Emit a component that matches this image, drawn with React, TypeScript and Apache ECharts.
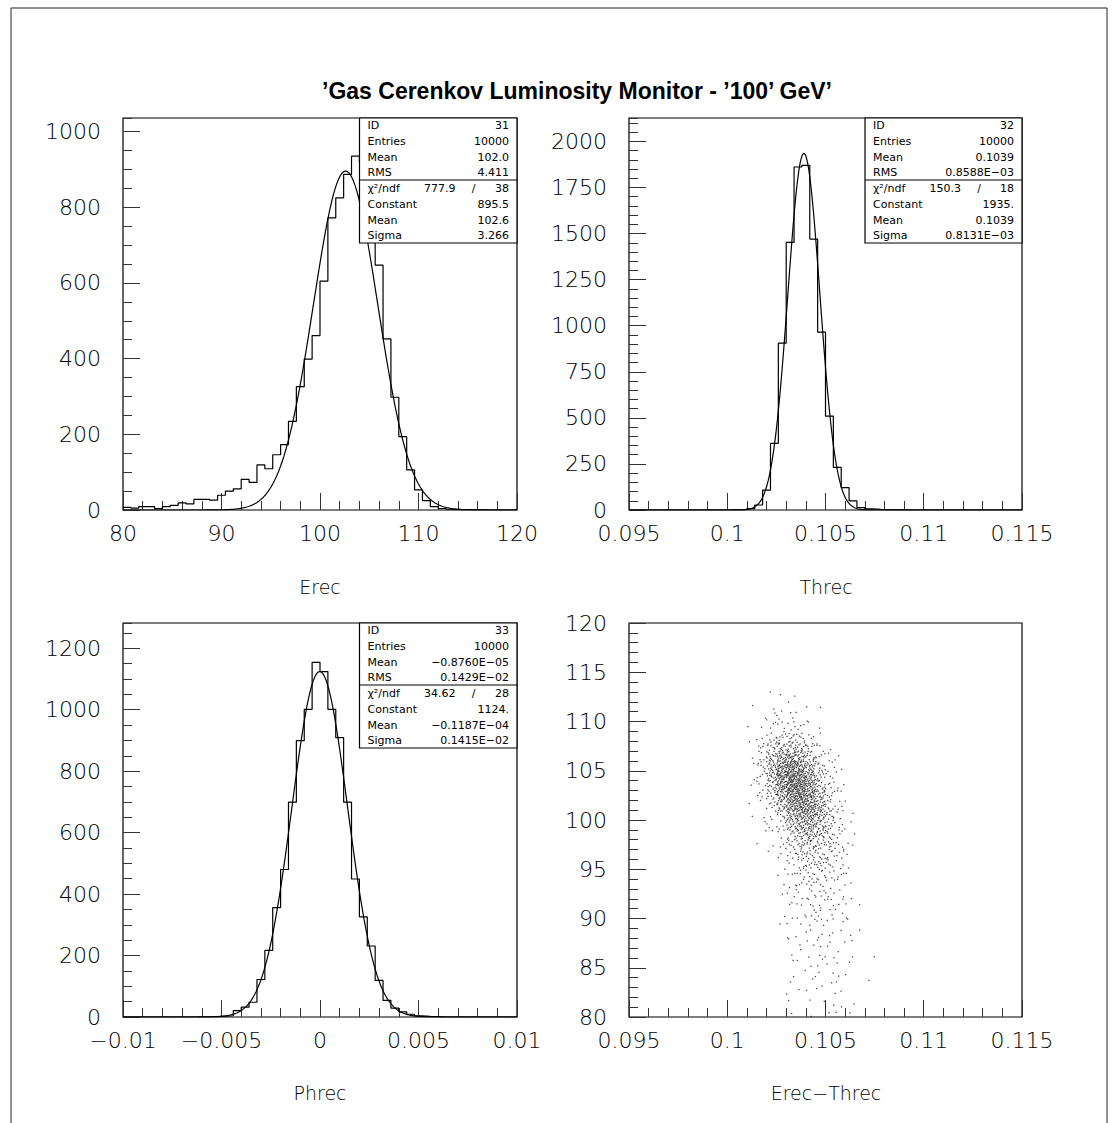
import React, { useEffect, useRef } from "react";
import * as echarts from "echarts";

const TITLE = "\u2019Gas Cerenkov Luminosity Monitor - \u2019100\u2019 GeV\u2019";
const axisTitles = ["Erec", "Threc", "Phrec", "Erec\u2212Threc"];

// ---- histogram ranges ----
const erecRange = [80, 120];
const threcRange = [0.095, 0.115];
const phrecRange = [-0.01, 0.01];

// ---- histogram contents (50 bins each) ----
const erecCounts = [
  7, 5, 9, 9, 4, 9, 12, 19, 16, 28, 28, 26, 39, 50, 56, 81, 73, 119, 109, 146,
  173, 234, 326, 399, 461, 605, 772, 825, 887, 935, 920, 810, 647, 452, 298, 194, 106, 53, 25, 9,
  4, 2, 1, 1, 0, 0, 0, 0, 0, 0,
];
const threcCounts = [
  0, 0, 0, 0, 0, 0, 0, 0, 0, 0, 0, 0, 0, 1, 2, 8, 27, 108, 361, 905,
  1452, 1861, 1870, 1470, 965, 509, 231, 121, 50, 13, 6, 3, 2, 1, 1, 0, 0, 0, 0, 0,
  0, 0, 0, 0, 0, 0, 0, 0, 0, 0,
];
const phrecCounts = [
  0, 0, 0, 0, 0, 0, 0, 0, 0, 0, 0, 1, 3, 4, 21, 32, 48, 122, 217, 356,
  480, 699, 899, 1001, 1154, 1124, 1001, 909, 699, 449, 326, 231, 119, 54, 29, 17, 9, 4, 2, 1,
  0, 0, 0, 0, 0, 0, 0, 0, 0, 0,
];

// ---- gaussian fit parameters: constant, mean, sigma ----
const erecFit = [895.5, 102.6, 3.266];
const threcFit = [1935, 0.1039, 0.8131e-3];
const phrecFit = [1124, -0.1187e-4, 0.1415e-2];

// ---- statistics boxes ----
const erecStats = [["ID", "31"], ["Entries", "10000"], ["Mean", "102.0"], ["RMS", "4.411"]];
const erecChi = ["777.9", "38"];
const erecFitRows = [["Constant", "895.5"], ["Mean", "102.6"], ["Sigma", "3.266"]];
const threcStats = [["ID", "32"], ["Entries", "10000"], ["Mean", "0.1039"], ["RMS", "0.8588E\u221203"]];
const threcChi = ["150.3", "18"];
const threcFitRows = [["Constant", "1935."], ["Mean", "0.1039"], ["Sigma", "0.8131E\u221203"]];
const phrecStats = [["ID", "33"], ["Entries", "10000"], ["Mean", "\u22120.8760E\u221205"], ["RMS", "0.1429E\u221202"]];
const phrecChi = ["34.62", "28"];
const phrecFitRows = [["Constant", "1124."], ["Mean", "\u22120.1187E\u221204"], ["Sigma", "0.1415E\u221202"]];

// ---- 2D scatter (Erec vs Threc): dot counts per cell ----
const scatterXEdges = [0.101, 0.1015, 0.102, 0.1025, 0.103, 0.1035, 0.104, 0.1045, 0.105, 0.1055, 0.106, 0.1065, 0.107];
const scatterYEdges = [112, 111, 110, 109, 108, 107, 106, 105, 104, 103, 102, 101, 100, 99, 98, 97, 96, 95, 94, 93, 92, 91, 90, 89, 88, 87, 86, 85, 84, 83, 82, 81, 80];
const scatterCounts = [
  [0, 0, 1, 1, 1, 0, 0, 0, 0, 0, 0, 0, 0],
  [1, 0, 1, 1, 1, 0, 1, 1, 0, 0, 0, 0, 0],
  [0, 1, 2, 2, 2, 1, 1, 0, 0, 0, 0, 0, 0],
  [1, 1, 3, 3, 4, 3, 1, 1, 0, 0, 0, 0, 0],
  [0, 2, 5, 7, 7, 6, 3, 1, 0, 0, 0, 0, 0],
  [1, 4, 9, 13, 14, 11, 6, 3, 1, 0, 0, 0, 0],
  [1, 5, 14, 22, 25, 19, 11, 5, 2, 1, 0, 0, 0],
  [1, 6, 17, 30, 37, 30, 19, 8, 3, 1, 0, 0, 0],
  [1, 5, 17, 34, 43, 39, 25, 10, 4, 1, 0, 0, 0],
  [1, 4, 14, 30, 43, 42, 28, 13, 5, 2, 0, 0, 0],
  [0, 3, 10, 23, 37, 42, 32, 17, 6, 2, 0, 0, 0],
  [1, 1, 6, 16, 30, 36, 33, 20, 7, 3, 1, 0, 0],
  [1, 1, 3, 9, 21, 29, 29, 20, 9, 3, 1, 0, 0],
  [0, 1, 2, 5, 14, 22, 23, 17, 9, 3, 1, 0, 0],
  [0, 1, 1, 3, 9, 15, 17, 14, 8, 4, 1, 0, 0],
  [0, 1, 1, 3, 7, 11, 12, 10, 7, 4, 2, 0, 0],
  [0, 0, 1, 2, 4, 8, 9, 8, 6, 4, 1, 0, 0],
  [0, 0, 0, 1, 3, 6, 8, 7, 5, 3, 1, 0, 0],
  [0, 0, 0, 1, 3, 4, 6, 5, 4, 3, 1, 0, 0],
  [0, 0, 0, 1, 2, 4, 4, 4, 3, 2, 1, 0, 0],
  [0, 0, 0, 1, 2, 3, 4, 4, 3, 2, 1, 0, 0],
  [0, 0, 0, 0, 2, 2, 3, 3, 3, 2, 1, 1, 0],
  [0, 0, 0, 1, 1, 2, 3, 3, 2, 2, 1, 0, 0],
  [0, 0, 0, 1, 1, 1, 2, 3, 2, 1, 1, 0, 0],
  [0, 0, 0, 0, 1, 1, 2, 2, 2, 1, 1, 1, 0],
  [0, 0, 0, 0, 1, 1, 2, 2, 2, 1, 1, 0, 0],
  [0, 0, 0, 0, 1, 1, 1, 2, 1, 1, 1, 0, 1],
  [0, 0, 0, 0, 1, 1, 1, 2, 1, 1, 1, 0, 0],
  [0, 0, 0, 0, 1, 1, 1, 1, 1, 1, 1, 0, 0],
  [0, 0, 0, 0, 1, 0, 1, 1, 1, 1, 0, 0, 1],
  [0, 0, 0, 0, 1, 1, 1, 1, 1, 1, 0, 0, 0],
  [0, 0, 0, 0, 1, 0, 1, 1, 1, 1, 1, 0, 0],
  [0, 0, 0, 0, 1, 0, 1, 0, 1, 1, 1, 0, 0],
];
// fixed placement pattern of dots inside a cell (fractions of cell width/height)
const dotPattern = [
  [0.12, 0.57], [0.83, 0.21], [0.45, 0.9], [0.67, 0.38], [0.29, 0.08], [0.94, 0.73], [0.05, 0.31], [0.58, 0.62],
  [0.36, 0.44], [0.77, 0.96], [0.18, 0.82], [0.51, 0.15], [0.89, 0.49], [0.24, 0.67], [0.63, 0.03], [0.02, 0.92],
  [0.72, 0.54], [0.41, 0.26], [0.97, 0.11], [0.31, 0.78], [0.55, 0.36], [0.09, 0.48], [0.8, 0.68], [0.47, 0.59],
  [0.21, 0.19], [0.69, 0.87], [0.38, 0.99], [0.91, 0.34], [0.14, 0.05], [0.6, 0.8], [0.86, 0.02], [0.33, 0.52],
  [0.07, 0.7], [0.74, 0.25], [0.49, 0.42], [0.26, 0.94], [0.96, 0.6], [0.16, 0.39], [0.65, 0.13], [0.43, 0.72],
  [0.85, 0.84], [0.01, 0.17], [0.57, 0.28], [0.3, 0.63], [0.78, 0.45], [0.11, 0.88], [0.53, 0.07], [0.92, 0.9],
  [0.4, 0.33], [0.7, 0.76], [0.19, 0.5], [0.62, 0.47], [0.87, 0.58], [0.27, 0.23], [0.04, 0.61], [0.48, 0.83],
  [0.75, 0.1], [0.34, 0.14], [0.99, 0.4], [0.23, 0.97], [0.59, 0.93], [0.81, 0.3], [0.15, 0.74], [0.44, 0.55],
];
const SCATTER_CELL_W = 0.0005;
const SCATTER_CELL_H = 1;

// ---------------------------------------------------------------
const FONT = "'DejaVu Sans ExtraLight', 'DejaVu Sans', 'Liberation Sans', sans-serif";
const INK = "#000";
const TICK = "#333";

function fmt(v: number) {
  const s = String(parseFloat(Number(v).toPrecision(8)));
  return s.replace("-", "\u2212");
}

function histSteps(counts: number[], range: number[]) {
  const w = (range[1] - range[0]) / counts.length;
  const pts: number[][] = [];
  counts.forEach((v, i) => {
    pts.push([range[0] + i * w, v]);
    pts.push([range[0] + (i + 1) * w, v]);
  });
  return pts;
}

function gaussCurve(fit: number[], range: number[]) {
  const [c, m, s] = fit;
  const pts: number[][] = [];
  const n = 500;
  for (let i = 0; i <= n; i++) {
    const x = range[0] + ((range[1] - range[0]) * i) / n;
    pts.push([x, c * Math.exp(-0.5 * ((x - m) / s) * ((x - m) / s))]);
  }
  return pts;
}

const labelStyle = { fontFamily: FONT, fontWeight: 200 as any, fontSize: 22, lineHeight: 18, color: INK };
const noLine = { show: false, onZero: false };

function xAxisCfg(grid: number, min: number, max: number, interval: number) {
  return {
    type: "value", gridIndex: grid, min, max, interval, position: "bottom",
    axisLine: noLine, splitLine: { show: false },
    axisTick: { show: true, inside: true, length: 17, lineStyle: { color: TICK, width: 1 } },
    minorTick: { show: true, splitNumber: 5, length: 9, lineStyle: { color: TICK, width: 1 } },
    axisLabel: { ...labelStyle, margin: 14, formatter: fmt, showMinLabel: true, showMaxLabel: true },
  };
}
function yMajorCfg(grid: number, min: number, max: number, interval: number, showMax: boolean, minor: number) {
  return {
    type: "value", gridIndex: grid, min, max, interval, position: "left",
    axisLine: noLine, splitLine: { show: false },
    axisTick: { show: true, inside: true, length: 17, lineStyle: { color: TICK, width: 1 } },
    minorTick: { show: minor > 0, splitNumber: minor || 1, length: 9, lineStyle: { color: TICK, width: 1 } },
    axisLabel: { ...labelStyle, margin: 22, formatter: fmt, showMinLabel: true, showMaxLabel: showMax },
  };
}
function yMinorCfg(grid: number, min: number, max: number, interval: number) {
  return {
    type: "value", gridIndex: grid, min, max, interval, position: "left",
    axisLine: noLine, splitLine: { show: false },
    axisTick: { show: true, inside: true, length: 9, lineStyle: { color: TICK, width: 1 } },
    axisLabel: { show: false },
  };
}

function statsBox(left: number, top: number, width: number, rows: string[][], chi: string[], fitRows: string[][]) {
  const els: any[] = [];
  const h = 125;
  const textStyle = (t: string, align: string) => ({
    text: t, fill: INK, fontFamily: FONT, fontSize: 11, align, verticalAlign: "middle",
  });
  els.push({ type: "rect", z: 100, shape: { x: left, y: top, width, height: h }, style: { fill: "#fff", stroke: INK, lineWidth: 1.2 } });
  els.push({ type: "line", z: 101, shape: { x1: left, y1: top + 62, x2: left + width, y2: top + 62 }, style: { stroke: INK, lineWidth: 1.2 } });
  const offs = [7, 23, 39, 54.5, 70.5, 86, 102, 117.5];
  rows.forEach((r, i) => {
    els.push({ type: "text", z: 102, x: left + 8, y: top + offs[i], style: textStyle(r[0], "left") });
    els.push({ type: "text", z: 102, x: left + width - 8, y: top + offs[i], style: textStyle(r[1], "right") });
  });
  els.push({ type: "text", z: 102, x: left + 8, y: top + offs[4], style: textStyle("\u03C7\u00B2/ndf", "left") });
  els.push({ type: "text", z: 102, x: left + 96, y: top + offs[4], style: textStyle(chi[0], "right") });
  els.push({ type: "text", z: 102, x: left + 114, y: top + offs[4], style: textStyle("/", "center") });
  els.push({ type: "text", z: 102, x: left + width - 8, y: top + offs[4], style: textStyle(chi[1], "right") });
  fitRows.forEach((r, i) => {
    els.push({ type: "text", z: 102, x: left + 8, y: top + offs[5 + i], style: textStyle(r[0], "left") });
    els.push({ type: "text", z: 102, x: left + width - 8, y: top + offs[5 + i], style: textStyle(r[1], "right") });
  });
  return els;
}

export default function App() {
  const ref = useRef<HTMLDivElement>(null);
  useEffect(() => {
    if (!ref.current) return;
    const chart = echarts.init(ref.current, null, { renderer: "svg" });

    const scatterPoints: number[][] = [];
    scatterCounts.forEach((row, r) =>
      row.forEach((n, c) => {
        for (let k = 0; k < n; k++) {
          const o = dotPattern[(k + r * 7 + c * 13) % dotPattern.length];
          scatterPoints.push([scatterXEdges[c] + o[0] * SCATTER_CELL_W, scatterYEdges[r] + o[1] * SCATTER_CELL_H]);
        }
      })
    );

    const gridBase = { show: true, borderColor: INK, borderWidth: 1.2, backgroundColor: "transparent", containLabel: false };
    const grids = [
      { ...gridBase, left: 123, top: 118, width: 394, height: 392 },
      { ...gridBase, left: 629, top: 118, width: 393, height: 392 },
      { ...gridBase, left: 123, top: 623, width: 394, height: 394 },
      { ...gridBase, left: 629, top: 623, width: 393, height: 394 },
    ];

    const xAxes = [
      xAxisCfg(0, erecRange[0], erecRange[1], 10),
      xAxisCfg(1, threcRange[0], threcRange[1], 0.005),
      xAxisCfg(2, phrecRange[0], phrecRange[1], 0.005),
      xAxisCfg(3, threcRange[0], threcRange[1], 0.005),
    ];
    const yAxes = [
      yMajorCfg(0, 0, 1036, 200, false, 0), // 0
      yMinorCfg(0, 0, 1036, 50), // 1
      yMajorCfg(1, 0, 2127, 250, false, 0), // 2
      yMinorCfg(1, 0, 2127, 50), // 3
      yMajorCfg(2, 0, 1282, 200, false, 0), // 4
      yMinorCfg(2, 0, 1282, 50), // 5
      yMajorCfg(3, 80, 120, 5, true, 5), // 6
    ];

    const lineBase = { type: "line", showSymbol: false, symbol: "none", silent: true, z: 3 };
    const series: any[] = [
      { ...lineBase, xAxisIndex: 0, yAxisIndex: 0, data: histSteps(erecCounts, erecRange), lineStyle: { color: INK, width: 1.2 } },
      { ...lineBase, xAxisIndex: 0, yAxisIndex: 0, data: gaussCurve(erecFit, erecRange), lineStyle: { color: INK, width: 1.2 } },
      { ...lineBase, xAxisIndex: 1, yAxisIndex: 2, data: histSteps(threcCounts, threcRange), lineStyle: { color: INK, width: 1.2 } },
      { ...lineBase, xAxisIndex: 1, yAxisIndex: 2, data: gaussCurve(threcFit, threcRange), lineStyle: { color: INK, width: 1.2 } },
      { ...lineBase, xAxisIndex: 2, yAxisIndex: 4, data: histSteps(phrecCounts, phrecRange), lineStyle: { color: INK, width: 1.2 } },
      { ...lineBase, xAxisIndex: 2, yAxisIndex: 4, data: gaussCurve(phrecFit, phrecRange), lineStyle: { color: INK, width: 1.2 } },
      {
        type: "scatter", xAxisIndex: 3, yAxisIndex: 6, data: scatterPoints, symbol: "rect", symbolSize: 1.25,
        itemStyle: { color: "#111" }, silent: true, large: false,
      },
    ];

    const titleStyle = { fontFamily: FONT, fontWeight: 200 as any, fontSize: 19, fill: INK, align: "center", verticalAlign: "middle" };
    const graphics: any[] = [
      { type: "rect", z: 50, shape: { x: 11, y: 8, width: 1096, height: 1200 }, style: { fill: "none", stroke: "#222", lineWidth: 1 } },
      {
        type: "text", z: 102, x: 577, y: 91,
        style: { text: TITLE, fontFamily: "'Liberation Sans', Arial, sans-serif", fontWeight: "bold", fontSize: 23, fill: INK, align: "center", verticalAlign: "middle" },
      },
      { type: "text", z: 102, x: 320, y: 587, style: { ...titleStyle, text: axisTitles[0] } },
      { type: "text", z: 102, x: 826, y: 587, style: { ...titleStyle, text: axisTitles[1] } },
      { type: "text", z: 102, x: 320, y: 1093, style: { ...titleStyle, text: axisTitles[2] } },
      { type: "text", z: 102, x: 826, y: 1093, style: { ...titleStyle, text: axisTitles[3] } },
      ...statsBox(359.5, 118, 157.5, erecStats, erecChi, erecFitRows),
      ...statsBox(865, 118, 157, threcStats, threcChi, threcFitRows),
      ...statsBox(359.5, 623, 157.5, phrecStats, phrecChi, phrecFitRows),
    ];

    chart.setOption({
      animation: false,
      backgroundColor: "#fff",
      grid: grids,
      xAxis: xAxes,
      yAxis: yAxes,
      series,
      graphic: { elements: graphics },
    });
    return () => chart.dispose();
  }, []);
  return <div ref={ref} style={{ position: "absolute", left: 0, top: 0, width: 1117, height: 1123 }} />;
}
